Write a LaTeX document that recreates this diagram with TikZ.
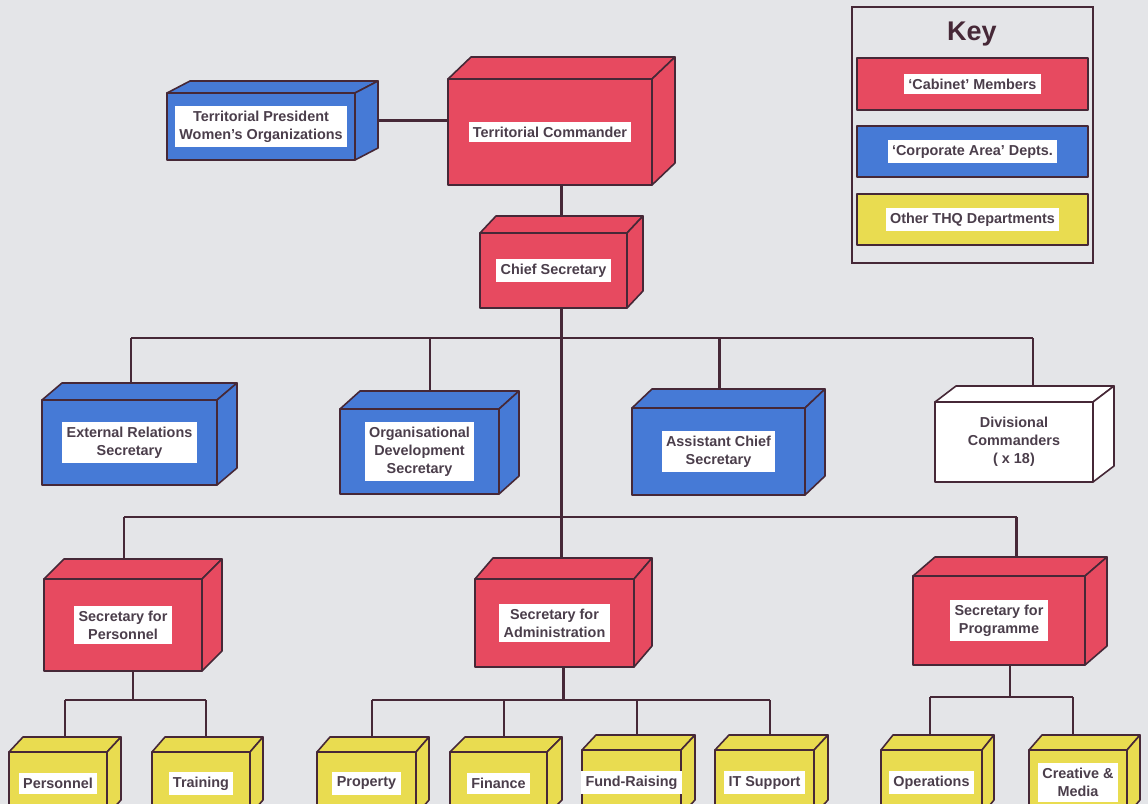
\documentclass[tikz,border=0pt]{standalone}
\usepackage{fontspec}
\setmainfont{Liberation Sans}
\usetikzlibrary{calc,fit}
\definecolor{cabinet}{RGB}{231,74,96}
\definecolor{corporate}{RGB}{70,122,214}
\definecolor{thq}{RGB}{233,220,80}
\definecolor{paper}{RGB}{228,229,232}
\definecolor{ink}{RGB}{70,40,55}
\definecolor{txt}{RGB}{75,62,75}
\pgfdeclarelayer{back}
\pgfdeclarelayer{wires}
\pgfsetlayers{back,wires,main}
\tikzset{
  boxline/.style={draw=ink, line width=0.8pt, line join=round},
  front/.style={boxline, inner sep=0pt},
  lbl/.style={fill=white, text=txt, font=\bfseries\fontsize{7.2}{9}\selectfont,
    align=center, inner xsep=2.2pt, inner ysep=2.4pt},
  wire/.style={draw=ink, line width=1.3pt}
}
% box: name, front x1 y1 x2 y2, depth dx dy, colour, text
\newcommand{\orgbox}[9]{%
  \node[front, fill=#8, fit={(#2,#3) (#4,#5)}] (#1) {};
  \draw[boxline, fill=#8] (#2,#3) -- ++(#6,-#7) -- ($(#4,#3)+(#6,-#7)$) -- (#4,#3) -- cycle; %top
  \draw[boxline, fill=#8] (#4,#3) -- ++(#6,-#7) -- ($(#4,#5)+(#6,-#7)$) -- (#4,#5) -- cycle; %side
  \node[lbl] (#1-l) at (#1) {#9};
  \coordinate (#1-t) at ($(#1.north)+(0.5*#6,-#7)$);
  \coordinate (#1-b) at ($(#1.south)+(0.5*#6,0)$);
  \coordinate (#1-e) at ($(#1.east)+(0.5*#6,-0.5*#7)$);
}
\begin{document}
\begin{tikzpicture}[x=0.5pt,y=-0.5pt]
\useasboundingbox (0,0) rectangle (1148,804);
\clip (0,0) rectangle (1148,804);
\begin{pgfonlayer}{back}
\fill[paper] (0,0) rectangle (1148,804); %paper
\end{pgfonlayer}

% top
\orgbox{tpw}{167}{93}{355}{160}{23}{12}{corporate}{Territorial President\\Women's Organizations}
\orgbox{tc}{448}{79}{652}{185}{23}{22}{cabinet}{Territorial Commander}
\orgbox{cs}{480}{233}{627}{308}{16}{17}{cabinet}{Chief Secretary}
% second row
\orgbox{ers}{42}{400}{217}{485}{20}{17}{corporate}{External Relations\\Secretary}
\orgbox{ods}{340}{409}{499}{494}{20}{18}{corporate}{Organisational\\Development\\Secretary}
\orgbox{acs}{632}{408}{805}{495}{20}{19}{corporate}{Assistant Chief\\Secretary}
\orgbox{dc}{935}{402}{1093}{482}{21}{16}{white}{Divisional\\Commanders\\( x 18)}
% secretaries
\orgbox{sfp}{44}{579}{202}{671}{20}{20}{cabinet}{Secretary for\\Personnel}
\orgbox{sfa}{475}{579}{634}{667}{18}{21}{cabinet}{Secretary for\\Administration}
\orgbox{sfg}{913}{576}{1085}{665}{22}{19}{cabinet}{Secretary for\\Programme}
% departments
\orgbox{per}{9}{752}{107}{815}{14}{15}{thq}{Personnel}
\orgbox{trn}{152}{752}{250}{815}{13}{15}{thq}{Training}
\orgbox{prop}{317}{752}{416}{815}{13}{15}{thq}{Property}
\orgbox{fin}{450}{752}{547}{815}{15}{15}{thq}{Finance}
\orgbox{fund}{582}{750}{681}{815}{14}{15}{thq}{Fund-Raising}
\orgbox{its}{715}{750}{814}{815}{14}{15}{thq}{IT Support}
\orgbox{ops}{881}{750}{982}{815}{12}{15}{thq}{Operations}
\orgbox{cm}{1029}{750}{1127}{815}{13}{15}{thq}{Creative \&\\Media}

% junctions
\coordinate (j-ers) at (131,338);
\coordinate (j-ods) at (430,338);
\coordinate (j-acs) at (719.5,338);
\coordinate (j-dc) at (1033,338);
\coordinate (j-sfp) at (124,517);
\coordinate (j-sfg) at (1016.5,517);
\coordinate (j-per) at (65,700);
\coordinate (j-trn) at (206,700);
\coordinate (j-prop) at (372,700);
\coordinate (j-fin) at (504,700);
\coordinate (j-fund) at (637,700);
\coordinate (j-its) at (770,700);
\coordinate (j-ops) at (930,697);
\coordinate (j-cm) at (1073,697);

\begin{pgfonlayer}{wires}
\draw[wire] (tpw-e) -- (tpw-e -| tc.west);
\draw[wire] (tc-b) -- (cs-t);
\draw[wire] (cs-b) -- (cs-b |- sfa-t);
\draw[wire] (j-ers) -- (j-dc);
\foreach \b in {ers,ods,acs,dc} \draw[wire] (j-\b) -- (j-\b |- \b-t);
\draw[wire] (j-sfp) -- (j-sfg);
\foreach \b in {sfp,sfg} \draw[wire] (j-\b) -- (j-\b |- \b-t);
\draw[wire] (sfp-b) -- (sfp-b |- j-per);
\draw[wire] (j-per) -- (j-trn);
\draw[wire] (sfa-b) -- (sfa-b |- j-fin);
\draw[wire] (j-prop) -- (j-its);
\draw[wire] (sfg-b) -- (sfg-b |- j-ops);
\draw[wire] (j-ops) -- (j-cm);
\foreach \b in {per,trn,prop,fin,fund,its,ops,cm} \draw[wire] (j-\b) -- (j-\b |- \b-t);
\end{pgfonlayer}

% key
\node[draw=ink, line width=1.3pt, inner sep=0pt, fit={(852,7) (1093,263)}] (key) {};
\node[text=ink, font=\bfseries\fontsize{13.5}{15}\selectfont] (key-t) at (972,34) {Key};
\node[front, line width=1pt, fill=cabinet, fit={(857,58) (1088,110)}] (kcab) {};
\node[lbl] (kcab-l) at (kcab) {`Cabinet' Members};
\node[front, line width=1pt, fill=corporate, fit={(857,126) (1088,177)}] (kcorp) {};
\node[lbl] (kcorp-l) at (kcorp) {`Corporate Area' Depts.};
\node[front, line width=1pt, fill=thq, fit={(857,194) (1088,245)}] (kthq) {};
\node[lbl] (kthq-l) at (kthq) {Other THQ Departments};
\end{tikzpicture}
\end{document}
